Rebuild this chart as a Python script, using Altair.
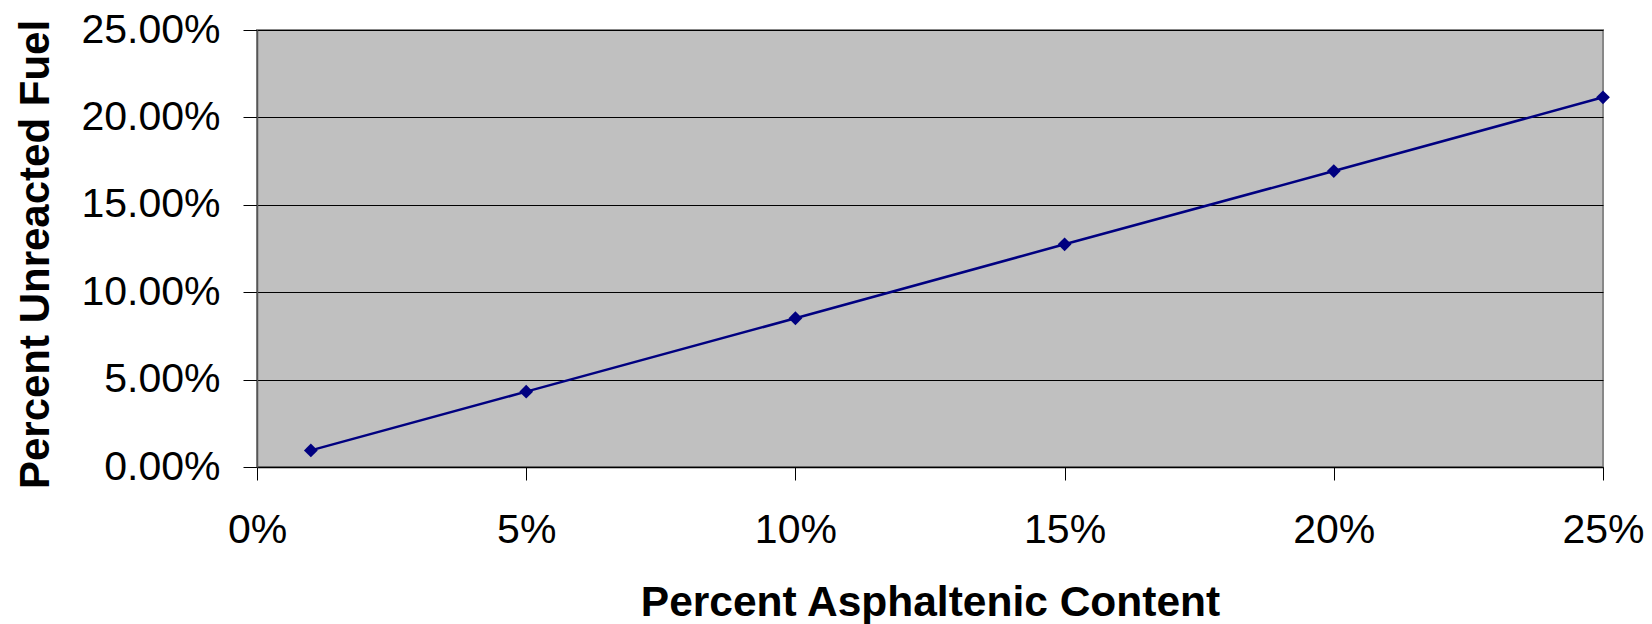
import altair as alt
import pandas as pd

asphaltenic = [0.01, 0.05, 0.10, 0.15, 0.20, 0.25]
unreacted = [0.0095, 0.0431, 0.0851, 0.1274, 0.1693, 0.2115]
x_ticks = [0.0, 0.05, 0.10, 0.15, 0.20, 0.25]
y_ticks = [0.0, 0.05, 0.10, 0.15, 0.20, 0.25]

df = pd.DataFrame({"x": asphaltenic, "y": unreacted})

FONT = "Liberation Sans"

x_enc = alt.X(
    "x:Q",
    scale=alt.Scale(domain=[0, 0.25], nice=False, zero=False),
    axis=alt.Axis(
        values=x_ticks, format=".0%", grid=False,
        title="Percent Asphaltenic Content",
        titleFont=FONT, titleFontSize=42.5, titleFontWeight="bold", titleColor="black",
        titleX=673, titleY=148, titleBaseline="alphabetic", titleAlign="center",
        labelFont=FONT, labelFontSize=41, labelColor="black", labelPadding=30,
        labelFlush=False, labelOverlap=False, labelBound=False,
        tickSize=13, tickColor="black", tickWidth=1,
        domainColor="black", domainWidth=1.5,
    ),
)
y_enc = alt.Y(
    "y:Q",
    scale=alt.Scale(domain=[0, 0.25], nice=False, zero=False),
    axis=alt.Axis(
        values=y_ticks, format=".2%", grid=True, gridColor="black", gridWidth=1, gridOpacity=1,
        title="Percent Unreacted Fuel",
        titleFont=FONT, titleFontSize=42, titleFontWeight="bold", titleColor="black",
        titleX=-209, titleY=224, titleBaseline="alphabetic", titleAlign="center", titleAngle=270,
        labelFont=FONT, labelFontSize=41, labelColor="black", labelPadding=23,
        labelFlush=False, labelOverlap=False, labelBound=False,
        tickSize=14, tickColor="black", tickWidth=1,
        domainColor="#555555", domainWidth=1.5,
    ),
)

base = alt.Chart(df)
line = base.mark_line(color="#000080", strokeWidth=2.5).encode(x=x_enc, y=y_enc)
points = base.mark_point(shape="diamond", filled=True, size=190, color="#000080", opacity=1).encode(x="x:Q", y="y:Q")

chart = (
    alt.layer(line, points)
    .properties(
        width=1346, height=437,
        autosize=alt.AutoSizeParams(type="none"),
        padding={"left": 257, "top": 30, "right": 49, "bottom": 157},
        background="white",
    )
    .configure_view(fill="#C0C0C0", stroke="#888888", strokeWidth=2)
)

chart.save("out.html", embed_options={"renderer": "svg", "actions": False})
